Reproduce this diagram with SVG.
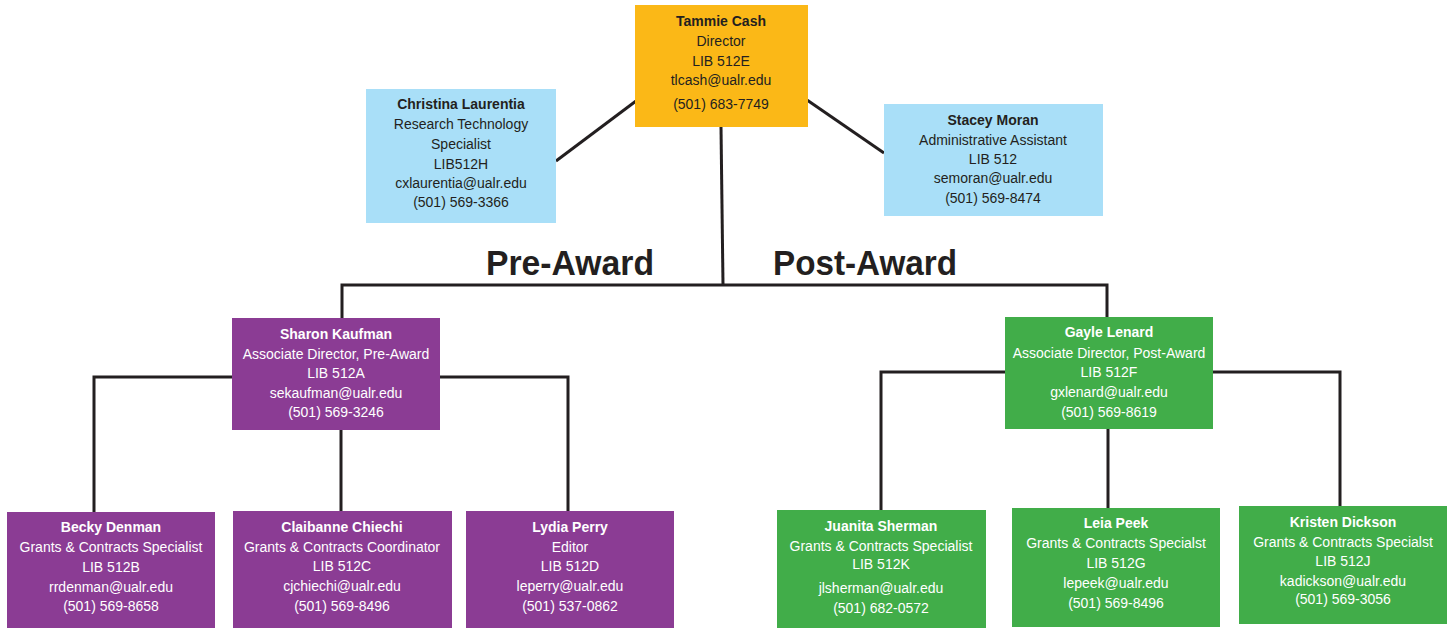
<svg xmlns="http://www.w3.org/2000/svg" width="1450" height="629" viewBox="0 0 1450 629">
<style>
.ln{stroke:#231f20;stroke-width:3;fill:none}
text{font-family:"Liberation Sans",Arial,sans-serif;font-size:14px;text-anchor:middle}
.d{fill:#231f20}
.w{fill:#ffffff}
.b{font-weight:bold}
.hd{font-family:"Liberation Sans",Arial,sans-serif;font-size:35px;font-weight:bold;fill:#231f20;text-anchor:start}
.or{fill:#fbb817}
.bl{fill:#a9dff8}
.pu{fill:#8b3c94}
.gr{fill:#41ad49}
</style>
<rect width="1450" height="629" fill="#ffffff"/>
<g id="connectors">
<line class="ln" x1="636" y1="101" x2="556" y2="161"/>
<line class="ln" x1="807" y1="100" x2="884" y2="153"/>
<line class="ln" x1="721" y1="127" x2="723" y2="285"/>
<polyline class="ln" points="342,318 342,285 1107,285 1107,317"/>
<polyline class="ln" points="94,512 94,377 232,377"/>
<polyline class="ln" points="440,377 568,377 568,511"/>
<line class="ln" x1="341" y1="430" x2="341" y2="511"/>
<polyline class="ln" points="881,510 881,372 1005,372"/>
<polyline class="ln" points="1213,372 1340,372 1340,506"/>
<line class="ln" x1="1108" y1="429" x2="1108" y2="508"/>
</g>
<text class="hd" x="486" y="275" textLength="168" lengthAdjust="spacingAndGlyphs">Pre-Award</text>
<text class="hd" x="773" y="275" textLength="184" lengthAdjust="spacingAndGlyphs">Post-Award</text>
<g id="tammie">
<rect class="or" x="635" y="5" width="173" height="122"/>
<text class="d b" x="721" y="26">Tammie Cash</text>
<text class="d" x="721" y="46">Director</text>
<text class="d" x="721" y="66">LIB 512E</text>
<text class="d" x="721" y="85">tlcash@ualr.edu</text>
<text class="d" x="721" y="109">(501) 683-7749</text>
</g>
<g id="christina">
<rect class="bl" x="366" y="89" width="190" height="134"/>
<text class="d b" x="461" y="109">Christina Laurentia</text>
<text class="d" x="461" y="129">Research Technology</text>
<text class="d" x="461" y="149">Specialist</text>
<text class="d" x="461" y="169">LIB512H</text>
<text class="d" x="461" y="188">cxlaurentia@ualr.edu</text>
<text class="d" x="461" y="207">(501) 569-3366</text>
</g>
<g id="stacey">
<rect class="bl" x="884" y="104" width="219" height="112"/>
<text class="d b" x="993" y="125">Stacey Moran</text>
<text class="d" x="993" y="145">Administrative Assistant</text>
<text class="d" x="993" y="164">LIB 512</text>
<text class="d" x="993" y="183">semoran@ualr.edu</text>
<text class="d" x="993" y="203">(501) 569-8474</text>
</g>
<g id="sharon">
<rect class="pu" x="232" y="318" width="208" height="112"/>
<text class="w b" x="336" y="339">Sharon Kaufman</text>
<text class="w" x="336" y="359">Associate Director, Pre-Award</text>
<text class="w" x="336" y="378">LIB 512A</text>
<text class="w" x="336" y="398">sekaufman@ualr.edu</text>
<text class="w" x="336" y="417">(501) 569-3246</text>
</g>
<g id="gayle">
<rect class="gr" x="1005" y="317" width="208" height="112"/>
<text class="w b" x="1109" y="337">Gayle Lenard</text>
<text class="w" x="1109" y="358">Associate Director, Post-Award</text>
<text class="w" x="1109" y="377">LIB 512F</text>
<text class="w" x="1109" y="397">gxlenard@ualr.edu</text>
<text class="w" x="1109" y="417">(501) 569-8619</text>
</g>
<g id="becky">
<rect class="pu" x="7" y="512" width="208" height="116"/>
<text class="w b" x="111" y="532">Becky Denman</text>
<text class="w" x="111" y="552">Grants &amp; Contracts Specialist</text>
<text class="w" x="111" y="572">LIB 512B</text>
<text class="w" x="111" y="592">rrdenman@ualr.edu</text>
<text class="w" x="111" y="611">(501) 569-8658</text>
</g>
<g id="claibanne">
<rect class="pu" x="233" y="511" width="219" height="117"/>
<text class="w b" x="342" y="532">Claibanne Chiechi</text>
<text class="w" x="342" y="552">Grants &amp; Contracts Coordinator</text>
<text class="w" x="342" y="571">LIB 512C</text>
<text class="w" x="342" y="591">cjchiechi@ualr.edu</text>
<text class="w" x="342" y="611">(501) 569-8496</text>
</g>
<g id="lydia">
<rect class="pu" x="466" y="511" width="208" height="117"/>
<text class="w b" x="570" y="532">Lydia Perry</text>
<text class="w" x="570" y="552">Editor</text>
<text class="w" x="570" y="571">LIB 512D</text>
<text class="w" x="570" y="591">leperry@ualr.edu</text>
<text class="w" x="570" y="611">(501) 537-0862</text>
</g>
<g id="juanita">
<rect class="gr" x="777" y="510" width="209" height="118"/>
<text class="w b" x="881" y="531">Juanita Sherman</text>
<text class="w" x="881" y="551">Grants &amp; Contracts Specialist</text>
<text class="w" x="881" y="569">LIB 512K</text>
<text class="w" x="881" y="593">jlsherman@ualr.edu</text>
<text class="w" x="881" y="613">(501) 682-0572</text>
</g>
<g id="leia">
<rect class="gr" x="1012" y="508" width="208" height="119"/>
<text class="w b" x="1116" y="528">Leia Peek</text>
<text class="w" x="1116" y="548">Grants &amp; Contracts Specialst</text>
<text class="w" x="1116" y="568">LIB 512G</text>
<text class="w" x="1116" y="588">lepeek@ualr.edu</text>
<text class="w" x="1116" y="608">(501) 569-8496</text>
</g>
<g id="kristen">
<rect class="gr" x="1239" y="506" width="208" height="118"/>
<text class="w b" x="1343" y="527">Kristen Dickson</text>
<text class="w" x="1343" y="547">Grants &amp; Contracts Specialst</text>
<text class="w" x="1343" y="566">LIB 512J</text>
<text class="w" x="1343" y="586">kadickson@ualr.edu</text>
<text class="w" x="1343" y="604">(501) 569-3056</text>
</g>
</svg>
